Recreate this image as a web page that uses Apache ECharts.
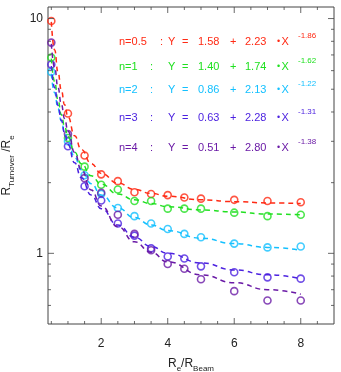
<!DOCTYPE html>
<html>
<head>
<meta charset="utf-8">
<script src="https://cdn.jsdelivr.net/npm/echarts@6/dist/echarts.min.js"></script>
<style>
    html, body { margin: 0; padding: 0; background: #fff; }
    #main { width: 341px; height: 372px; }
</style>
</head>
<body>
<div id="main"></div>
<script>
// 观测点 R_e / R_Beam
var xVals = [0.5, 1, 1.5, 2, 2.5, 3, 3.5, 4, 4.5, 5, 6, 7, 8];
// R_Turnover / R_e, one list per Sersic n
var yN05 = [9.77, 3.94, 2.61, 2.17, 2.03, 1.82, 1.79, 1.77, 1.73, 1.71, 1.69, 1.67, 1.65];
var yN1 = [6.82, 3.10, 2.34, 1.96, 1.87, 1.67, 1.67, 1.55, 1.55, 1.55, 1.49, 1.44, 1.46];
var yN2 = [5.93, 3.00, 2.15, 1.79, 1.56, 1.44, 1.34, 1.27, 1.21, 1.17, 1.10, 1.06, 1.07];
var yN3 = [6.37, 2.86, 1.93, 1.68, 1.34, 1.19, 1.05, 0.97, 0.95, 0.88, 0.83, 0.79, 0.78];
var yN4 = [7.90, 3.22, 2.09, 1.81, 1.46, 1.21, 1.03, 0.90, 0.86, 0.775, 0.69, 0.63, 0.63];

// dashed fit curves
var fitX = [0.5, 0.6, 0.7, 0.8, 0.9, 1, 1.2, 1.4, 1.7, 2, 2.5, 3, 3.5, 4, 5, 6, 7, 8];
var fitN05 = [9.68, 7.35, 5.91, 4.96, 4.29, 3.81, 3.17, 2.77, 2.41, 2.19, 1.99, 1.87, 1.80, 1.75, 1.69, 1.66, 1.64, 1.63];
var fitN1 = [6.75, 5.38, 4.50, 3.90, 3.46, 3.14, 2.70, 2.41, 2.14, 1.97, 1.79, 1.69, 1.63, 1.58, 1.53, 1.50, 1.47, 1.46];
var fitN2 = [5.82, 4.83, 4.15, 3.66, 3.28, 2.99, 2.57, 2.27, 1.98, 1.77, 1.56, 1.42, 1.32, 1.25, 1.16, 1.10, 1.06, 1.03];
var fitN3 = [6.28, 5.08, 4.27, 3.69, 3.25, 2.91, 2.43, 2.10, 1.77, 1.55, 1.32, 1.17, 1.07, 1.00, 0.91, 0.85, 0.81, 0.78];
var fitN4 = [7.80, 6.18, 5.09, 4.32, 3.75, 3.31, 2.69, 2.27, 1.86, 1.59, 1.30, 1.12, 1.01, 0.92, 0.81, 0.75, 0.70, 0.67];

// 图例文字
var nLabels = ['n=0.5', 'n=1', 'n=2', 'n=3', 'n=4'];
var coefA = ['1.58', '1.40', '0.86', '0.63', '0.51'];
var coefB = ['2.23', '1.74', '2.13', '2.28', '2.80'];
var powers = ['-1.86', '-1.62', '-1.22', '-1.31', '-1.38'];

// tick marks
var xTickMajor = [2, 4, 6, 8];
var xTickMinor = [0.5, 1, 1.5, 2.5, 3, 3.5, 4.5, 5, 5.5, 6.5, 7, 7.5, 8.5];
var yTickMajor = [1, 10];
var yTickMinor = [0.6, 0.7, 0.8, 0.9, 2, 3, 4, 5, 6, 7, 8, 9];

(function () {
    var X_MIN = 0.4, X_MAX = 9, Y_MIN = 0.5, Y_MAX = 11.2;
    var axisColor = '#444';
    var font = 'Liberation Sans, Arial, sans-serif';
    var colors = ['#ff2a14', '#20e020', '#14c0ff', '#4c22e0', '#6a1aa6'];
    var ySets = [yN05, yN1, yN2, yN3, yN4];
    var fitSets = [fitN05, fitN1, fitN2, fitN3, fitN4];

    let myechart = echarts.init(document.getElementById('main'));

    function pairs(xs, ys) {
        return xs.map(function (x, i) { return [x, ys[i]]; });
    }

    // 刻度用小矩形画
    function tickSeries(data, size, offset) {
        return {
            type: 'scatter',
            data: data,
            symbol: 'rect',
            symbolSize: size,
            symbolOffset: offset,
            itemStyle: { color: axisColor },
            silent: true,
            clip: false,
            z: 5,
            animation: false
        };
    }

    var series = [];
    fitSets.forEach(function (ys, i) {
        series.push({
            type: 'line',
            data: pairs(fitX, ys),
            showSymbol: false,
            smooth: true,
            smoothMonotone: 'x',
            lineStyle: { color: colors[i], width: 1.5, type: [5, 4] },
            silent: true,
            animation: false
        });
    });
    ySets.forEach(function (ys, i) {
        series.push({
            type: 'scatter',
            data: pairs(xVals, ys),
            symbol: 'circle',
            symbolSize: 7,
            itemStyle: { color: 'transparent', borderColor: colors[i], borderWidth: 1.6 },
            silent: true,
            animation: false
        });
    });

    series.push(tickSeries(xTickMajor.map(function (v) { return [v, Y_MIN]; }), [1, 6], [0, -3]));
    series.push(tickSeries(xTickMinor.map(function (v) { return [v, Y_MIN]; }), [1, 3], [0, -1.5]));
    series.push(tickSeries(xTickMajor.map(function (v) { return [v, Y_MAX]; }), [1, 6], [0, 3]));
    series.push(tickSeries(xTickMinor.map(function (v) { return [v, Y_MAX]; }), [1, 3], [0, 1.5]));
    series.push(tickSeries(yTickMajor.map(function (v) { return [X_MIN, v]; }), [6, 1], [3, 0]));
    series.push(tickSeries(yTickMinor.map(function (v) { return [X_MIN, v]; }), [3, 1], [1.5, 0]));
    series.push(tickSeries(yTickMajor.map(function (v) { return [X_MAX, v]; }), [6, 1], [-3, 0]));
    series.push(tickSeries(yTickMinor.map(function (v) { return [X_MAX, v]; }), [3, 1], [-1.5, 0]));

    // 公式文字
    var lineY = [42, 66.5, 89.5, 118, 148];
    var graphic = [];
    function txt(x, y, s, color, size) {
        graphic.push({
            type: 'text', x: x, y: y, silent: true,
            style: { text: s, fill: color, fontSize: size, fontFamily: font, verticalAlign: 'middle', align: 'left' }
        });
    }
    nLabels.forEach(function (lab, i) {
        var c = colors[i], y = lineY[i];
        txt(119, y, lab, c, 11);
        txt(i === 0 ? 160 : 150, y, ':', c, 11);
        txt(168, y, 'Y', c, 11);
        txt(182, y, '=', c, 11);
        txt(198, y, coefA[i], c, 11);
        txt(230, y, '+', c, 11);
        txt(245, y, coefB[i], c, 11);
        txt(277, y, '\u2022', c, 9);
        txt(281.5, y, 'X', c, 11);
        txt(298, y - 6, powers[i], c, 8);
    });

    var option = {
        backgroundColor: '#fff',
        grid: {
            left: 48, right: 7, top: 7, bottom: 48,
            show: true,
            borderColor: axisColor,
            borderWidth: 1,
            outerBoundsMode: 'none'
        },
        xAxis: {
            type: 'value',
            min: X_MIN,
            max: X_MAX,
            interval: 0.2,
            axisLine: { show: false },
            axisTick: { show: false },
            splitLine: { show: false },
            axisLabel: {
                margin: 14,
                color: '#222',
                fontSize: 12,
                fontFamily: font,
                showMinLabel: false,
                showMaxLabel: false,
                formatter: function (v) {
                    var r = Math.round(v);
                    return (Math.abs(v - r) < 1e-6 && r % 2 === 0 && r > 0) ? String(r) : '';
                }
            },
            name: '{a|R}{b|e}{a|/R}{b|Beam}',
            nameLocation: 'middle',
            nameGap: 31,
            nameTextStyle: {
                rich: {
                    a: { fontSize: 12, lineHeight: 18, color: '#222', fontFamily: font },
                    b: { fontSize: 8, lineHeight: 8, verticalAlign: 'bottom', color: '#222', fontFamily: font }
                }
            }
        },
        yAxis: {
            type: 'log',
            logBase: 10,
            min: Y_MIN,
            max: Y_MAX,
            axisLine: { show: false },
            axisTick: { show: false },
            splitLine: { show: false },
            minorTick: { show: false },
            axisLabel: {
                margin: 5,
                color: '#222',
                fontSize: 12,
                fontFamily: font,
                formatter: function (v) {
                    var l = Math.log10(v);
                    return Math.abs(l - Math.round(l)) < 1e-6 ? String(Math.round(v)) : '';
                }
            },
            name: '{a|R}{b|Turnover}{a| /R}{b|e}',
            nameLocation: 'middle',
            nameGap: 32,
            nameTextStyle: {
                rich: {
                    a: { fontSize: 12, lineHeight: 18, color: '#222', fontFamily: font },
                    b: { fontSize: 8, lineHeight: 8, verticalAlign: 'bottom', color: '#222', fontFamily: font }
                }
            }
        },
        graphic: graphic,
        series: series
    };

    myechart.setOption(option);
    window.addEventListener('resize', function () {
        myechart.resize();
    });
})();
</script>
</body>
</html>
